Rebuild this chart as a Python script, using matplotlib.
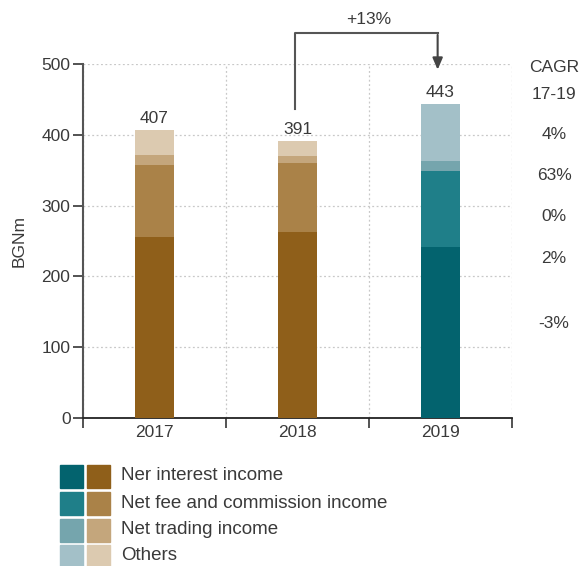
import matplotlib.pyplot as plt
import matplotlib.patches as ptc
import matplotlib.transforms as mtr

# Operating income by component, BGN million.
years = ["2017", "2018", "2019"]
interest = [256, 263, 242]
fees = [101, 97, 107]
trading = [14, 10, 14]
others = [36, 21, 80]
totals = [407, 391, 443]

series_names = ["Ner interest income", "Net fee and commission income",
                "Net trading income", "Others"]
cagr = ["4%", "63%", "0%", "2%", "-3%"]
cagr_y = [401, 343, 284, 225, 134]

brown = ["#8F5F1A", "#AA8248", "#C4A67C", "#DCCAB0"]
teal = ["#03636E", "#1F7F89", "#75A5AD", "#A3C0C8"]
txt = "#3a3a3a"
fs = 12.5

plt.rcParams['font.family'] = ['Liberation Sans', 'DejaVu Sans']

fig = plt.figure(figsize=(5.82, 5.66), dpi=100)
ax = fig.add_axes([83/582, 1-418/566, (512-83)/582, (418-64)/566])

series = [interest, fees, trading, others]
x = list(range(len(years)))
bottom = [0, 0, 0]
for k, vals in enumerate(series):
	cols = [brown[k], brown[k], teal[k]]
	ax.bar(x, vals, width=0.27, bottom=bottom, color=cols, zorder=3)
	bottom = [b + v for b, v in zip(bottom, vals)]

for i, t in enumerate(totals):
	ax.text(i, t + 6, str(t), ha='center', va='bottom', fontsize=fs, color=txt)

ax.set_xlim(-0.5, 2.5)
ax.set_ylim(0, 500)
ax.set_yticks(range(0, 501, 100))
ax.set_xticks([-0.5, 0.5, 1.5, 2.5])
ax.set_xticklabels([])
ax.set_xticks(x, minor=True)
ax.set_xticklabels(years, minor=True)
ax.tick_params(axis='x', which='minor', length=0, pad=5, labelsize=fs, labelcolor=txt)
ax.tick_params(axis='x', which='major', length=7, width=1.3, color='#444')
ax.tick_params(axis='y', length=7, width=1.3, color='#444', labelsize=fs, labelcolor=txt, pad=2)

ax.grid(True, which='major', color='#c8c8c8', linestyle=(0, (1.5, 2)), linewidth=0.9, zorder=0)
ax.spines['top'].set_visible(False)
ax.spines['right'].set_visible(False)
ax.spines['left'].set_color('#555')
ax.spines['left'].set_linewidth(1.5)
ax.spines['bottom'].set_color('#222')
ax.spines['bottom'].set_linewidth(1.3)
ax.set_ylabel("BGNm", fontsize=fs, color=txt, labelpad=11)

# Growth arrow from 2018 to 2019
ax.plot([0.98, 0.98, 1.98], [437, 544, 544], color='#555', lw=1.5, clip_on=False, zorder=4)
ax.annotate("", xy=(1.98, 488), xytext=(1.98, 545),
            arrowprops=dict(arrowstyle='-|>,head_length=0.7,head_width=0.3', color='#444', lw=1.5),
            annotation_clip=False)
ax.text(1.5, 552, "+13%", ha='center', va='bottom', fontsize=fs, color=txt)

# CAGR column on the right
tr = mtr.blended_transform_factory(fig.transFigure, ax.transData)
ax.text(554/582, 495, "CAGR", transform=tr, ha='center', va='center', fontsize=fs, color=txt)
ax.text(554/582, 457, "17-19", transform=tr, ha='center', va='center', fontsize=fs, color=txt)
for lab, yy in zip(cagr, cagr_y):
	ax.text(554/582, yy, lab, transform=tr, ha='center', va='center', fontsize=fs, color=txt)

# Legend drawn by hand: teal and brown swatches side by side
rows_y = [476, 503, 530, 556]
sq = 23
for k, name in enumerate(series_names):
	yc = rows_y[k]
	for x0, c in ((60, teal[k]), (87, brown[k])):
		fig.patches.append(ptc.Rectangle((x0/582, 1-(yc+sq/2)/566), sq/582, sq/566,
		                                  transform=fig.transFigure, color=c))
	fig.text(121/582, 1-yc/566, name, ha='left', va='center', fontsize=13.5, color=txt)

fig.savefig("out.png", dpi=100)
